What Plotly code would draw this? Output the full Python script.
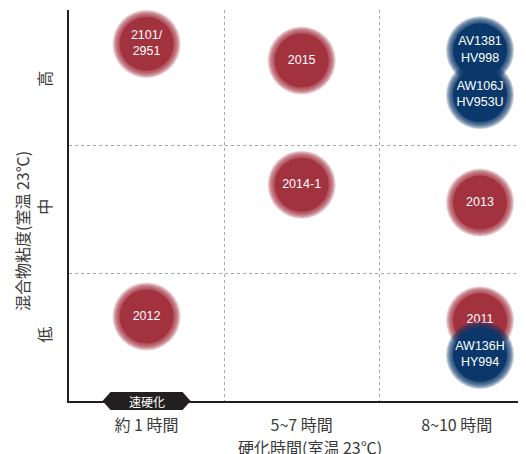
import plotly.graph_objects as go

# ---- data ----
x_categories = ["約 1 時間", "5~7 時間", "8~10 時間"]
y_categories = ["低", "中", "高"]

red_labels = ["2101/<br>2951", "2015", "2014-1", "2013", "2012", "2011"]
red_x = [0.5, 1.5, 1.5, 2.65, 0.5, 2.65]
red_y = [2.79, 2.66, 1.69, 1.55, 0.66, 0.63]

blue_labels = ["AV1381<br>HV998", "AW106J<br>HV953U", "AW136H<br>HY994"]
blue_x = [2.65, 2.65, 2.65]
blue_y = [2.74, 2.39, 0.36]

X_MAX = 2.94
Y_MAX = 3.055

RED = "rgb(163,50,63)"
BLUE = "rgb(10,56,106)"

fig = go.Figure()


def add_bubbles(xs, ys, labels, color):
    # soft-edged disc: faint rings around a solid core
    for size in range(68, 54, -2):
        fig.add_trace(go.Scatter(
            x=xs, y=ys, mode="markers",
            marker=dict(size=size, color=color, opacity=0.22, line=dict(width=0)),
            hoverinfo="skip", showlegend=False))
    fig.add_trace(go.Scatter(
        x=xs, y=ys, mode="markers+text", text=labels,
        textfont=dict(family="Liberation Sans, Arial, sans-serif", size=12.5, color="white"),
        textposition="middle center",
        marker=dict(size=54, color=color, line=dict(width=0)),
        hoverinfo="skip", showlegend=False))


add_bubbles(red_x, red_y, red_labels, RED)
add_bubbles(blue_x, blue_y, blue_labels, BLUE)

JP = "Noto Sans CJK JP, sans-serif"
AXIS_COLOR = "#231f20"
TXT = "#3a3a3a"

fig.update_layout(
    width=518, height=446,
    margin=dict(l=61, r=1, t=2, b=53),
    paper_bgcolor="white", plot_bgcolor="white",
    xaxis=dict(
        range=[0, X_MAX], tickvals=[0.5, 1.5, 2.5], ticktext=x_categories,
        showgrid=False, zeroline=False, ticks="",
        showline=True, linecolor=AXIS_COLOR, linewidth=1.5,
        tickfont=dict(family=JP, size=16, color=TXT),
        ticklabelstandoff=9,
        minor=dict(tickvals=[1, 2], showgrid=True, gridcolor="#a8a8a8",
                   griddash="dot", gridwidth=1, ticks=""),
        automargin=False, fixedrange=True,
    ),
    yaxis=dict(
        range=[0, Y_MAX], tickvals=[0.5, 1.5, 2.5], ticktext=y_categories,
        showgrid=False, zeroline=False, ticks="", tickangle=-90,
        showline=True, linecolor=AXIS_COLOR, linewidth=1.5,
        tickfont=dict(family=JP, size=16, color=TXT),
        ticklabelstandoff=10,
        minor=dict(tickvals=[1, 2], showgrid=True, gridcolor="#a8a8a8",
                   griddash="dot", gridwidth=1, ticks=""),
        automargin=False, fixedrange=True,
    ),
    showlegend=False,
)

# axis titles
fig.add_annotation(
    x=0.5285, y=-0.1176, xref="paper", yref="paper", text="硬化時間(室温 23℃)",
    showarrow=False, font=dict(family=JP, size=16, color=TXT),
    xanchor="center", yanchor="middle",
)
fig.add_annotation(
    x=-0.103, y=0.4348, xref="paper", yref="paper", text="混合物粘度(室温 23℃)",
    showarrow=False, textangle=-90, font=dict(family=JP, size=16, color=TXT),
    xanchor="center", yanchor="middle",
)

# "速硬化" badge on the x axis (under the first category)
badge_x = 0.5 / X_MAX
fig.add_shape(
    type="path", xref="paper", yref="paper", layer="above",
    xsizemode="pixel", ysizemode="pixel", xanchor=badge_x, yanchor=0,
    path="M -44 0 L -36 9 L 36 9 L 44 0 L 36 -9 L -36 -9 Z",
    fillcolor=AXIS_COLOR, line=dict(width=0),
)
fig.add_annotation(
    x=badge_x, y=0, xref="paper", yref="paper", text="速硬化", showarrow=False,
    font=dict(family=JP, size=12, color="white"), xanchor="center", yanchor="middle",
)

# axis arrowheads
fig.add_annotation(
    x=1, y=0, xref="paper", yref="paper", ax=-3, ay=0,
    text="", showarrow=True, arrowhead=2, arrowsize=1.4, arrowwidth=1.5,
    arrowcolor=AXIS_COLOR, standoff=0,
)
fig.add_annotation(
    x=0, y=1, xref="paper", yref="paper", ax=0, ay=3,
    text="", showarrow=True, arrowhead=2, arrowsize=1.4, arrowwidth=1.5,
    arrowcolor=AXIS_COLOR, standoff=0,
)

fig.write_html("out.html")
